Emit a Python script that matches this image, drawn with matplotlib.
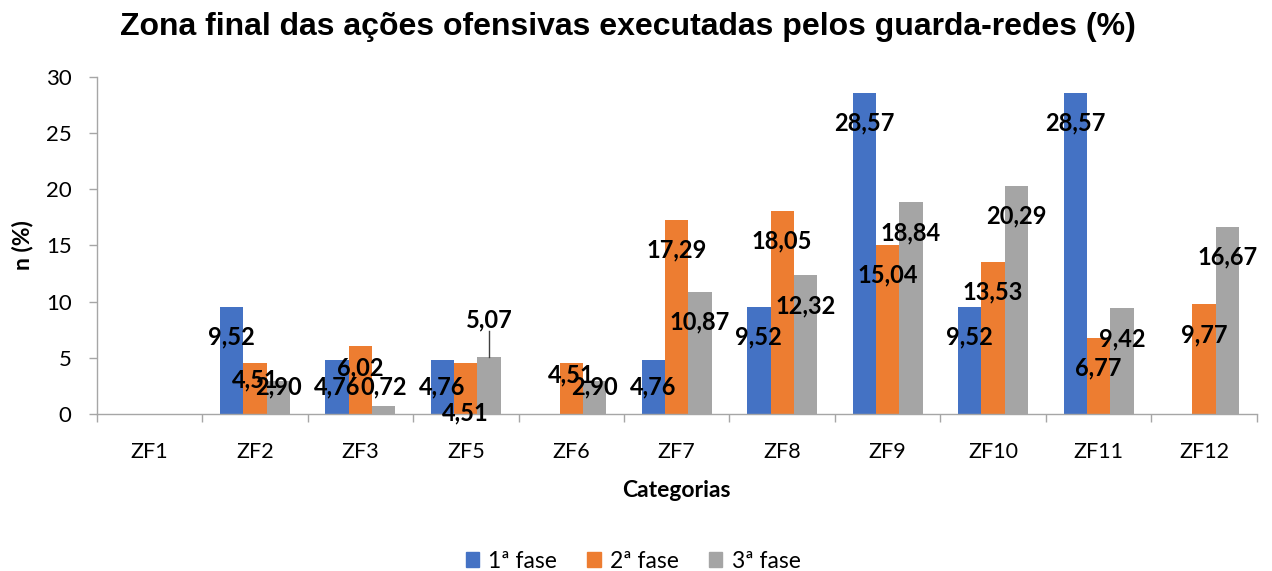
import numpy as np
import matplotlib
matplotlib.use("Agg")
import matplotlib.pyplot as plt
from matplotlib.patches import Patch

categorias = ["ZF1", "ZF2", "ZF3", "ZF5", "ZF6", "ZF7", "ZF8", "ZF9", "ZF10", "ZF11", "ZF12"]
fase1 = [0, 9.52, 4.76, 4.76, 0, 4.76, 9.52, 28.57, 9.52, 28.57, 0]
fase2 = [0, 4.51, 6.02, 4.51, 4.51, 17.29, 18.05, 15.04, 13.53, 6.77, 9.77]
fase3 = [0, 2.90, 0.72, 5.07, 2.90, 10.87, 12.32, 18.84, 20.29, 9.42, 16.67]
nomes = ["1ª fase", "2ª fase", "3ª fase"]

cores = ["#4472C4", "#ED7D31", "#A5A5A5"]
fonte = "Lato"

# rótulos movidos à mão no original: (série, categoria) -> altura do rótulo
rotulos_manuais = {(1, 1): 3.02, (1, 2): 4.06, (1, 3): 0.12, (2, 3): 8.36, (1, 4): 3.47}
com_linha = {(2, 3)}

fig = plt.figure(figsize=(12.72, 5.71), dpi=100)
ax = fig.add_axes([0.076, 0.275, 0.912, 0.5907])

x = np.arange(len(categorias))
w = 0.221
series = [fase1, fase2, fase3]
for i, vals in enumerate(series):
    pos = x + (i - 1) * w
    ax.bar(pos, vals, w, color=cores[i], label=nomes[i], zorder=2)
    for j, v in enumerate(vals):
        if v == 0:
            continue
        yl = rotulos_manuais.get((i, j), max(v - 2.7, 2.37))
        ax.text(pos[j], yl, f"{v:.2f}".replace(".", ","), ha="center", va="center",
                fontsize=17, fontweight="bold", family=fonte, color="black", zorder=4)
        if (i, j) in com_linha:
            ax.plot([pos[j], pos[j]], [v, yl - 0.95], color="#404040", lw=1, zorder=3)

ax.set_xlim(-0.5, len(categorias) - 0.5)
ax.set_ylim(0, 30)
ax.set_yticks(range(0, 31, 5))
ax.set_xticks(np.arange(-0.5, len(categorias), 1))
ax.set_xticklabels([])
ax.set_xticks(x, minor=True)
ax.set_xticklabels(categorias, minor=True, fontsize=15.5, family=fonte)
ax.tick_params(axis="x", which="major", length=6, color="#A6A6A6", width=1)
ax.tick_params(axis="x", which="minor", length=0, pad=20)
ax.tick_params(axis="y", length=6, color="#A6A6A6", width=1, pad=12)
for t in ax.get_yticklabels():
    t.set_fontsize(16)
    t.set_family(fonte)

for s in ["top", "right"]:
    ax.spines[s].set_visible(False)
for s in ["left", "bottom"]:
    ax.spines[s].set_color("#A6A6A6")
    ax.spines[s].set_linewidth(1)

ax.set_xlabel("Categorias", fontsize=16.5, fontweight="bold", family=fonte, labelpad=13)
ax.set_ylabel("n (%)", fontsize=16.5, fontweight="bold", family=fonte, labelpad=9)

fig.text(0.494, 1 - 27 / 571, "Zona final das ações ofensivas executadas pelos guarda-redes (%)",
         ha="center", va="center", fontsize=23, fontweight="bold", family="Liberation Sans")

handles = [Patch(color=c) for c in cores]
fig.legend(handles, nomes, loc="center", bbox_to_anchor=(633 / 1272, 1 - 561 / 571), ncol=3,
           frameon=False, prop={"family": fonte, "size": 16.5}, handlelength=0.6,
           handleheight=0.6, handletextpad=0.4, columnspacing=1.3)

fig.savefig("out.png", dpi=100)
